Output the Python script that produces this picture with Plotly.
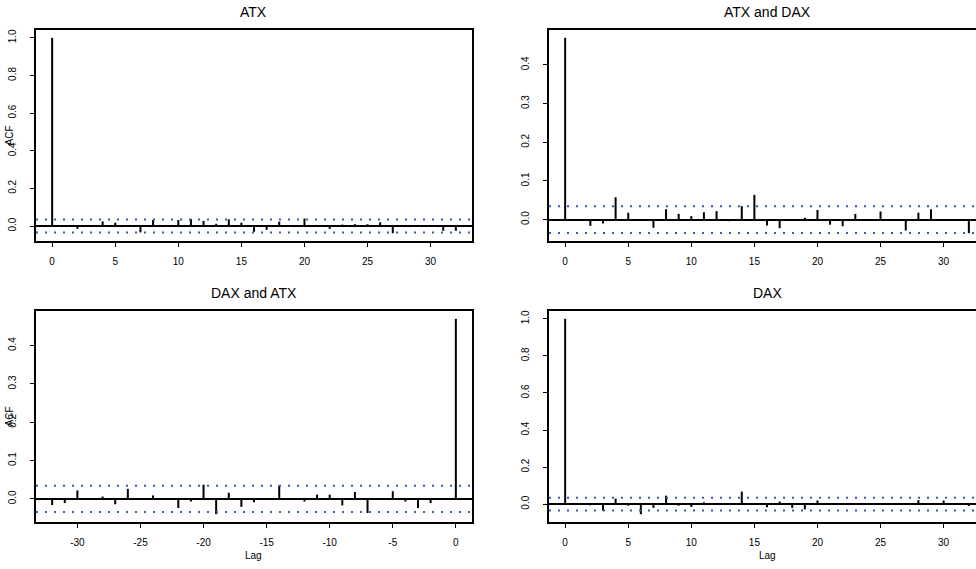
import plotly.graph_objects as go

# Lags
lags_pos = list(range(0, 33))
lags_neg = list(range(-32, 1))

# Autocorrelations of ATX returns
acf_atx = [1.0, 0.0, -0.015, 0.0, 0.025, 0.018, 0.002, -0.034, 0.032, -0.005,
           0.032, 0.037, 0.027, 0.012, 0.036, 0.018, -0.03, -0.02, 0.023, -0.004,
           0.04, 0.0, -0.015, 0.008, 0.01, 0.01, 0.02, -0.038, 0.0, 0.0,
           0.003, -0.025, -0.025]

# Cross-correlations ATX -> DAX
ccf_atx_dax = [0.47, 0.0, -0.016, -0.01, 0.058, 0.018, 0.0, -0.021, 0.027, 0.015,
               0.009, 0.019, 0.022, -0.004, 0.035, 0.064, -0.015, -0.022, 0.0, 0.005,
               0.025, -0.013, -0.017, 0.015, 0.0, 0.021, 0.0, -0.028, 0.018, 0.027,
               0.0, 0.0, -0.035]

# Cross-correlations DAX -> ATX (negative lags)
ccf_dax_atx = [-0.016, -0.011, 0.022, 0.0, 0.006, -0.014, 0.026, 0.0, 0.009, 0.0,
               -0.024, -0.007, 0.037, -0.04, 0.016, -0.021, -0.009, -0.002, 0.035, 0.0,
               -0.007, 0.011, 0.011, -0.017, 0.018, -0.037, 0.0, 0.02, -0.007, -0.024,
               -0.011, 0.0, 0.47]

# Autocorrelations of DAX returns
acf_dax = [1.0, 0.0, -0.006, -0.035, 0.03, -0.008, -0.054, -0.02, 0.046, -0.008,
           -0.015, 0.01, 0.003, 0.0, 0.068, 0.0, -0.017, 0.014, -0.02, -0.028,
           0.02, 0.0, 0.006, 0.003, 0.0, 0.0, 0.003, 0.0, 0.022, 0.003,
           0.02, 0.0, -0.01]

titles = ["ATX", "ATX and DAX", "DAX and ATX", "DAX"]

# Tick positions / labels
xticks_pos = [0, 5, 10, 15, 20, 25, 30]
xticks_neg = [-30, -25, -20, -15, -10, -5, 0]
yticks_acf = [0.0, 0.2, 0.4, 0.6, 0.8, 1.0]
yticks_ccf = [0.0, 0.1, 0.2, 0.3, 0.4]

clim = 0.0345  # approximate 95% white-noise bound

W, H = 976, 569
FONT = "Liberation Sans, Arial, Helvetica, sans-serif"
CI_COLOR = "#2763b0"

# plot-region pixel boxes: (left, right, top, bottom)
boxes = [
    (36, 472, 30, 241),
    (549, 976, 30, 241),
    (36, 472, 311, 522),
    (549, 976, 311, 522),
]
px_per_lag = 436 / 34.56
full_right = 985  # right edge of the right-hand frames (beyond the page)

panels = [
    dict(lags=lags_pos, vals=acf_atx, yt=yticks_acf, xt=xticks_pos, xstart=-1.28, mirror_y=True),
    dict(lags=lags_pos, vals=ccf_atx_dax, yt=yticks_ccf, xt=xticks_pos, xstart=-1.28, mirror_y=False),
    dict(lags=lags_neg, vals=ccf_dax_atx, yt=yticks_ccf, xt=xticks_neg, xstart=-33.28, mirror_y=True),
    dict(lags=lags_pos, vals=acf_dax, yt=yticks_acf, xt=xticks_pos, xstart=-1.28, mirror_y=False),
]

fig = go.Figure()
layout = dict(
    width=W, height=H,
    margin=dict(l=0, r=0, t=0, b=0),
    paper_bgcolor="white", plot_bgcolor="white",
    showlegend=False,
    font=dict(family=FONT, size=10, color="black"),
)
annotations = []

for i, (p, box, title) in enumerate(zip(panels, boxes, titles)):
    k = "" if i == 0 else str(i + 1)
    xa, ya = "x" + k, "y" + k
    left, right, top, bottom = box

    # vertical spikes from zero to each correlation
    xs, ys = [], []
    for lag, v in zip(p["lags"], p["vals"]):
        xs += [lag, lag, None]
        ys += [0, v, None]
    fig.add_trace(go.Scatter(x=xs, y=ys, mode="lines", xaxis=xa, yaxis=ya,
                             line=dict(color="black", width=2),
                             hoverinfo="skip"))

    x0 = p["xstart"]
    x1 = x0 + (right - left) / px_per_lag
    # confidence bounds
    for c in (clim, -clim):
        fig.add_trace(go.Scatter(x=[x0, x1], y=[c, c], mode="lines",
                                 xaxis=xa, yaxis=ya,
                                 line=dict(color=CI_COLOR, width=2, dash="2px,7px"),
                                 hoverinfo="skip"))

    lo = min(min(p["vals"]), -clim)
    hi = max(max(p["vals"]), clim)
    ext = 0.04 * (hi - lo)
    yr = [lo - ext, hi + ext]

    layout["xaxis" + k] = dict(
        domain=[left / W, right / W], anchor=ya, range=[x0, x1],
        tickmode="array", tickvals=p["xt"], ticktext=[str(t) for t in p["xt"]],
        showgrid=False, zeroline=False,
        showline=True, mirror=True, linecolor="black", linewidth=1.6,
        ticks="outside", ticklen=4, tickwidth=1.4, tickcolor="black",
        ticklabelstandoff=6, tickfont=dict(size=10, family=FONT),
    )
    layout["yaxis" + k] = dict(
        domain=[1 - bottom / H, 1 - top / H], anchor=xa, range=yr,
        tickmode="array", tickvals=p["yt"], ticktext=["%.1f" % t for t in p["yt"]],
        showgrid=False,
        zeroline=True, zerolinecolor="black", zerolinewidth=2,
        showline=True, mirror=p["mirror_y"], linecolor="black", linewidth=1.6,
        ticks="outside", ticklen=4, tickwidth=1.4, tickcolor="black",
        tickangle=-90, ticklabelstandoff=10, tickfont=dict(size=10, family=FONT),
    )

    frame_right = right if i % 2 == 0 else full_right
    cx = (left + frame_right) / 2 / W

    # panel title
    annotations.append(dict(text=title, x=cx, y=1 - (top - 18) / H,
                            xref="paper", yref="paper",
                            xanchor="center", yanchor="middle", showarrow=False,
                            font=dict(size=14, family=FONT)))
    if i % 2 == 0:
        annotations.append(dict(text="ACF", x=9 / W, y=1 - ((top + bottom) / 2) / H,
                                xref="paper", yref="paper", textangle=-90,
                                xanchor="center", yanchor="middle", showarrow=False,
                                font=dict(size=10, family=FONT)))
    if i >= 2:
        annotations.append(dict(text="Lag", x=cx, y=1 - 555 / H,
                                xref="paper", yref="paper",
                                xanchor="center", yanchor="middle", showarrow=False,
                                font=dict(size=10, family=FONT)))

layout["annotations"] = annotations
fig.update_layout(**layout)
fig.write_html("out.html")
